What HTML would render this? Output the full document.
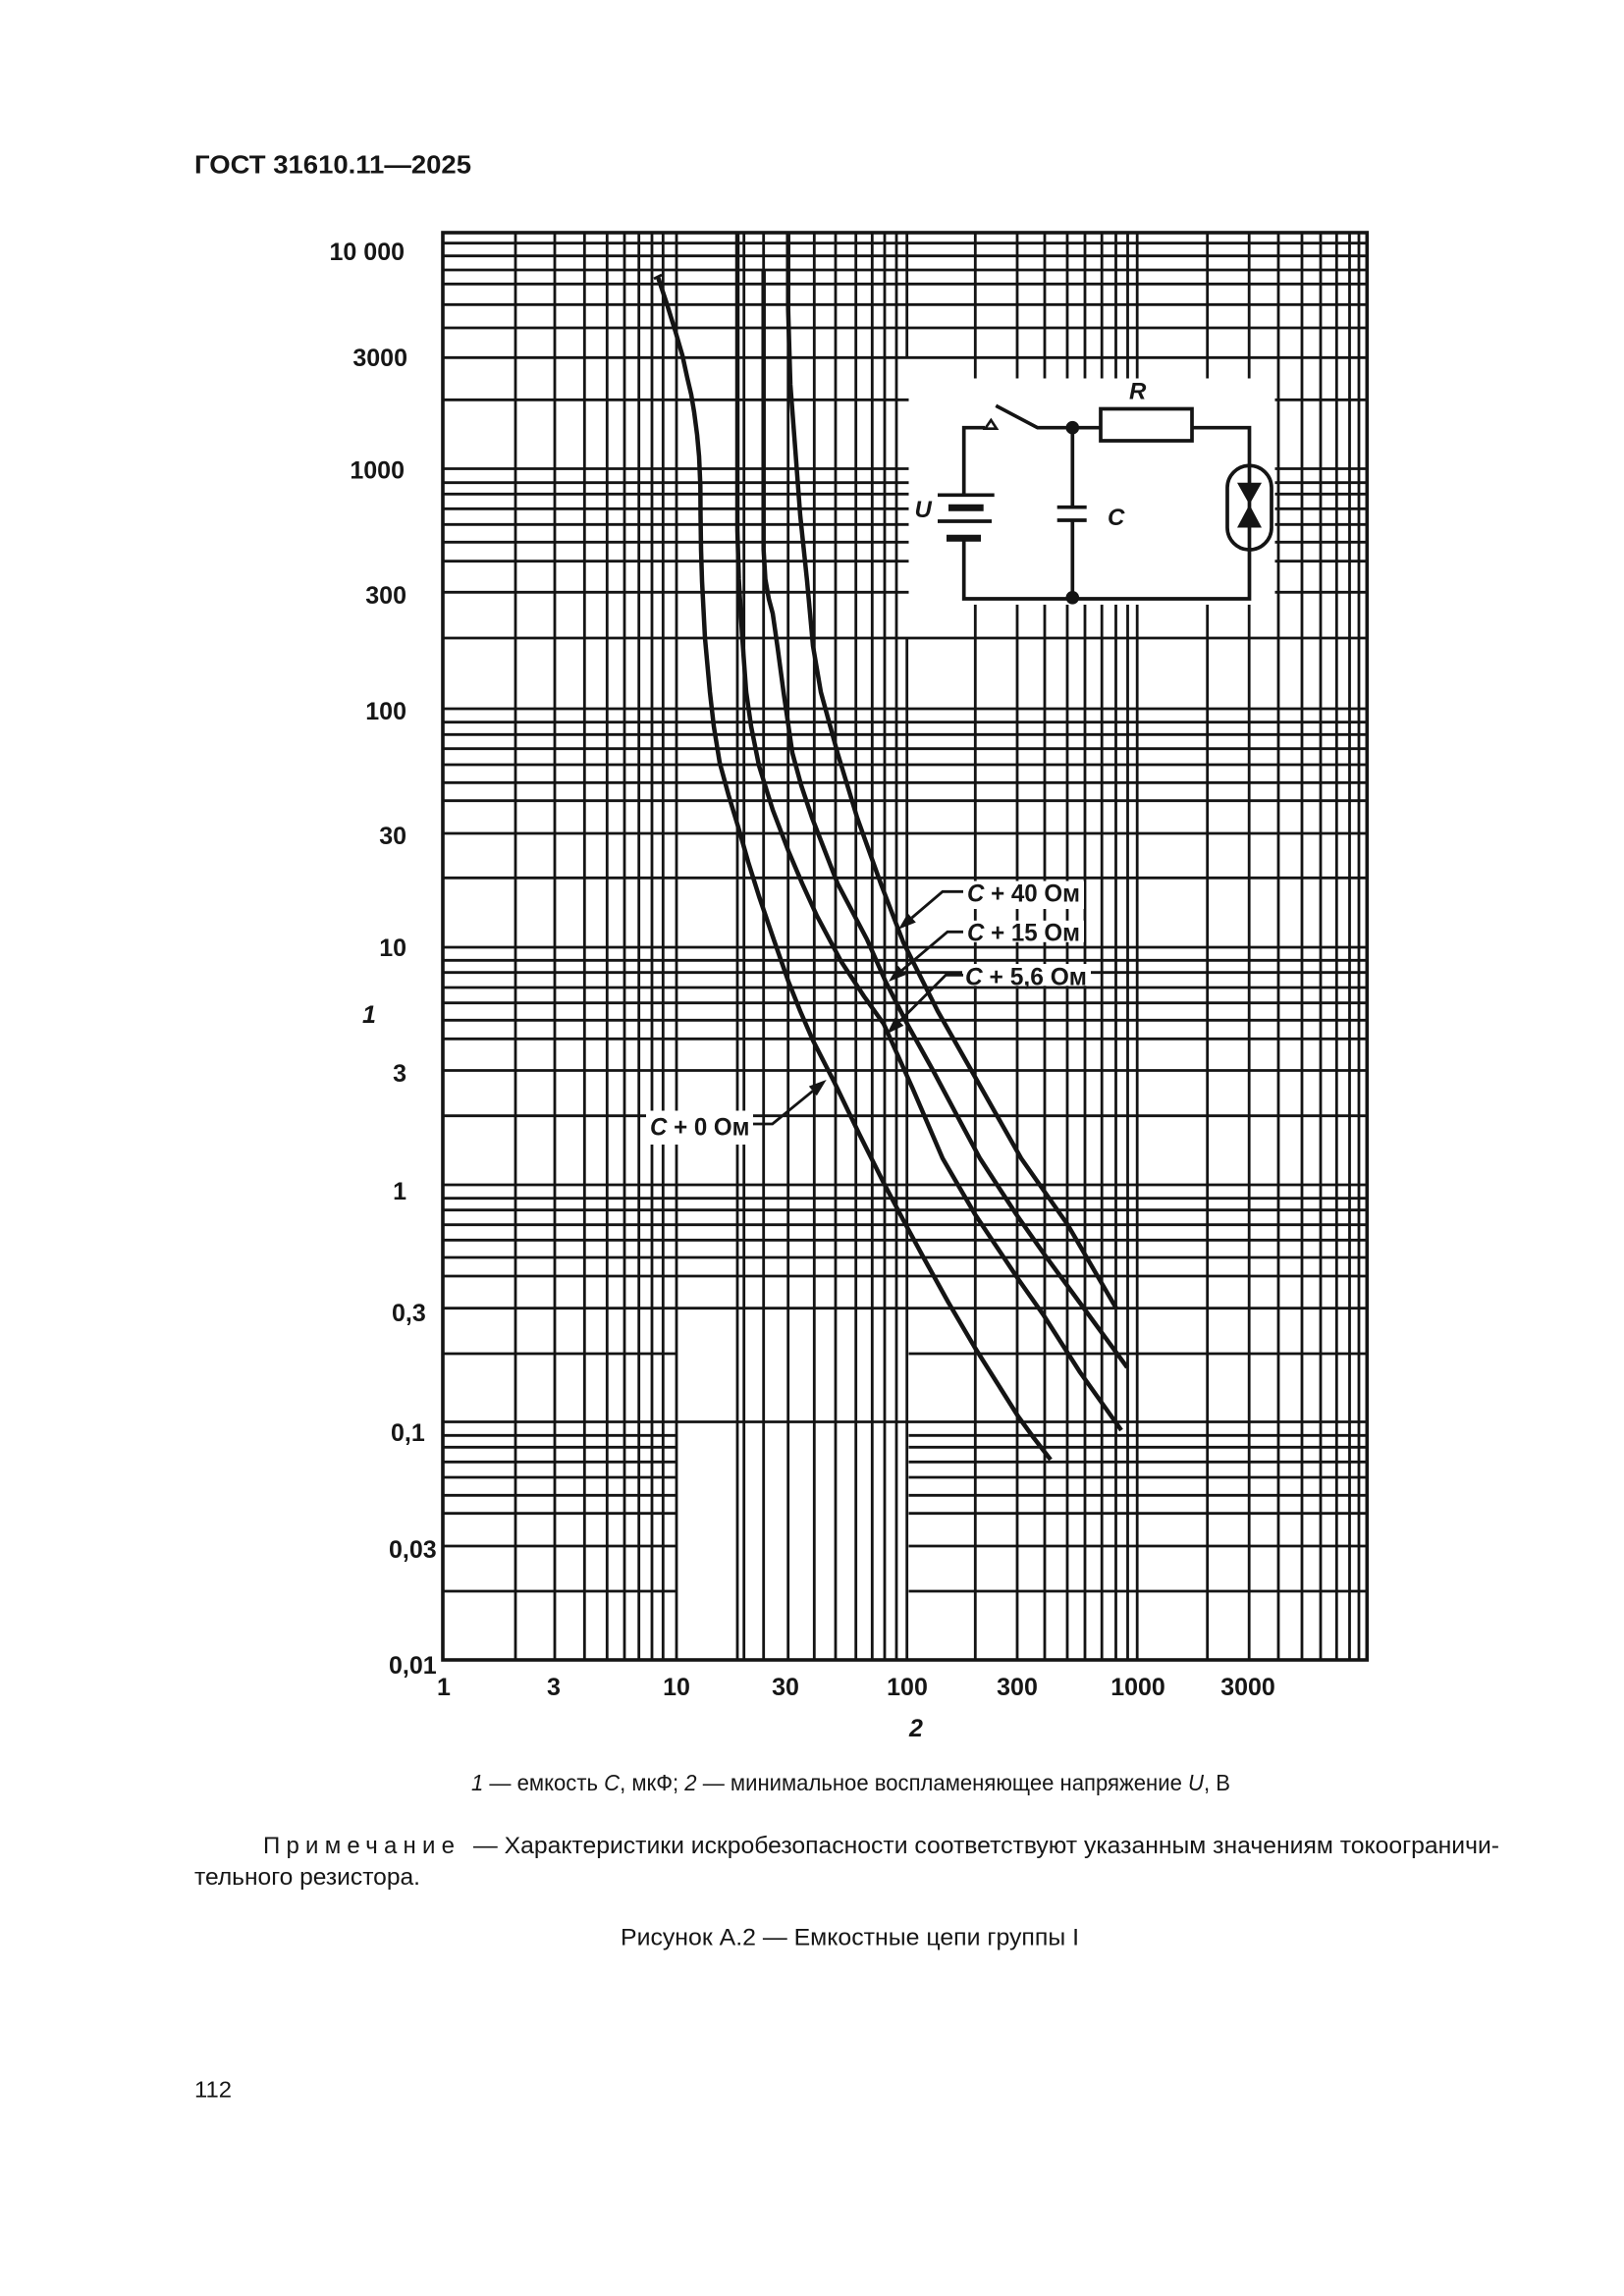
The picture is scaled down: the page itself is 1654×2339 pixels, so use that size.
<!DOCTYPE html>
<html>
<head>
<meta charset="utf-8">
<style>
html,body{margin:0;padding:0;background:#ffffff;}
svg{display:block;}
text{font-family:"Liberation Sans","DejaVu Sans",sans-serif;fill:#161616;}
</style>
</head>
<body>
<svg width="1654" height="2339" viewBox="0 0 1654 2339" xmlns="http://www.w3.org/2000/svg">
<rect x="0" y="0" width="1654" height="2339" fill="#ffffff"/>

<!-- Title -->
<text x="198" y="176.7" font-size="25.5" font-weight="bold" textLength="282" lengthAdjust="spacingAndGlyphs">ГОСТ 31610.11—2025</text>

<!-- Horizontal grid lines -->
<path fill="none" stroke="#141414" stroke-width="2.8" d="
M451 247.7H1392.3 M451 260.7H1392.3 M451 275H1392.3 M451 289.3H1392.3 M451 310.3H1392.3 M451 334H1392.3 M451 364.3H1392.3 M451 407.3H1392.3
M451 477.5H1392.3 M451 491.7H1392.3 M451 503.3H1392.3 M451 518.3H1392.3 M451 534.3H1392.3 M451 552.3H1392.3 M451 571.7H1392.3 M451 603.3H1392.3 M451 650H1392.3
M451 722H1392.3 M451 735.7H1392.3 M451 748.3H1392.3 M451 762.7H1392.3 M451 779H1392.3 M451 797.3H1392.3 M451 815.7H1392.3 M451 849H1392.3 M451 894.3H1392.3
M451 965H1392.3 M451 978.3H1392.3 M451 990.7H1392.3 M451 1006H1392.3 M451 1021.7H1392.3 M451 1039.3H1392.3 M451 1058.3H1392.3 M451 1090.5H1392.3 M451 1136.7H1392.3
M451 1207H1392.3 M451 1220.7H1392.3 M451 1232.7H1392.3 M451 1247.7H1392.3 M451 1263.3H1392.3 M451 1281H1392.3 M451 1300H1392.3 M451 1332.7H1392.3
M451 1379H689 M925.5 1379H1392.3
M451 1448.5H1392.3
M451 1462.3H689 M925.5 1462.3H1392.3
M451 1474.3H689 M925.5 1474.3H1392.3
M451 1489.3H689 M925.5 1489.3H1392.3
M451 1505H689 M925.5 1505H1392.3
M451 1523.3H689 M925.5 1523.3H1392.3
M451 1541.7H689 M925.5 1541.7H1392.3
M451 1575H689 M925.5 1575H1392.3
M451 1621H689 M925.5 1621H1392.3
"/>

<!-- Vertical grid lines -->
<path fill="none" stroke="#141414" stroke-width="2.8" d="
M525 237V1691 M565 237V1691 M595.3 237V1691 M618.3 237V1691 M636 237V1691 M650.7 237V1691 M664 237V1691 M675.3 237V1691 M689 237V1691
M751 237V1691 M757.7 237V1691 M777.7 237V1691 M802.7 237V1691 M829.3 237V1691 M851 237V1691 M871.7 237V1691 M888.3 237V1691 M901 237V1691 M913 237V1691
M923.7 237V364.3 M923.7 650V1691
M993.3 237V1691 M1036 237V1691 M1064 237V1691 M1087 237V1691 M1105 237V1691 M1122.2 237V1691 M1136.5 237V1691 M1148.5 237V1691 M1158.2 237V1691
M1229.7 237V1691 M1272.2 237V1691 M1302 237V1691 M1326 237V1691 M1345 237V1691 M1361.3 237V1691 M1374.5 237V1691 M1384 237V1691
"/>

<!-- Frame -->
<rect x="451" y="237" width="941.3" height="1454" fill="none" stroke="#141414" stroke-width="3.6"/>

<!-- White boxes (circuit inset and labels) -->
<rect x="925.5" y="385.5" width="373" height="230.5" fill="#ffffff"/>
<rect x="980" y="897.5" width="124" height="28.5" fill="#ffffff"/>
<rect x="980" y="937.8" width="124" height="22" fill="#ffffff"/>
<rect x="980" y="982" width="131" height="22.3" fill="#ffffff"/>
<rect x="658" y="1131.5" width="109" height="34.5" fill="#ffffff"/>

<!-- Curves -->
<g fill="none" stroke="#141414" stroke-width="4.5" stroke-linejoin="round" stroke-linecap="butt">
<polyline points="670,282 679,309 688,338 695,362 700,385 704,402 707,420 710,443 712,465 713.3,495 713.5,525 714,560 715,592 718,650 723,705 727,740 733,777 742,810 752,843 762,878 773,913 788,957 803,1000 815,1030 828,1060 850,1103 875,1155 900,1205 920,1243 940,1280 966,1327 993,1373 1015,1408 1037,1443 1053,1465 1070,1487"/>
<polyline points="751,237 751,540 752.5,590 756,650 760,705 765,740 773,780 787,825 803,867 817,900 832,933 857,980 880,1015 900,1043 930,1110 960,1180 993,1237 1037,1303 1063,1340 1100,1398 1142,1457"/>
<polyline points="777.7,275 777.7,560 779.5,590 783,610 787,625 792,660 798,705 807,767 816,800 827,833 853,900 883,957 902,1000 925,1045 950,1090 975,1137 998,1180 1035,1237 1063,1277 1107,1337 1148,1393"/>
<polyline points="802.7,237 802.7,315 805,392 810,458 815,525 822,592 828,658 836,705 853,767 873,833 897,900 920,960 955,1030 993,1097 1040,1180 1087,1247 1137,1333"/>
</g>
<path d="M666 284 L674 280" stroke="#141414" stroke-width="2.8"/>

<!-- Leaders and arrows -->
<g fill="none" stroke="#141414" stroke-width="2.8">
<path d="M981 908.3 H960 L928.7 935"/>
<path d="M981 949.3 H965 L918.7 988.4"/>
<path d="M981 993.3 H963.3 L916 1040.6"/>
<path d="M767 1145 H786.7 L827.8 1111.4"/>
</g>
<g fill="#141414" stroke="none">
<polygon points="915,946.7 932.8,939.6 924.6,930.4"/>
<polygon points="905,1000 922.8,993 914.7,983.8"/>
<polygon points="903.3,1053.3 920.3,1044.9 911.7,1036.3"/>
<polygon points="841.7,1100 831.8,1116.2 823.8,1106.6"/>
</g>

<!-- Curve labels -->
<g font-size="25" font-weight="bold">
<text x="985" y="918.3" textLength="115" lengthAdjust="spacingAndGlyphs"><tspan font-style="italic">C</tspan> + 40 Ом</text>
<text x="985" y="958.3" textLength="115" lengthAdjust="spacingAndGlyphs"><tspan font-style="italic">C</tspan> + 15 Ом</text>
<text x="983" y="1003.3" textLength="124" lengthAdjust="spacingAndGlyphs"><tspan font-style="italic">C</tspan> + 5,6 Ом</text>
<text x="662" y="1156.7" textLength="101.5" lengthAdjust="spacingAndGlyphs"><tspan font-style="italic">C</tspan> + 0 Ом</text>
</g>

<!-- Circuit -->
<g fill="none" stroke="#141414" stroke-width="3.7">
<path d="M981.7 504 V435.7 H1003"/>
<path d="M1014.3 413.3 L1056.7 435.7 H1121"/>
<rect x="1121" y="416.5" width="93" height="32.5" fill="#ffffff"/>
<path d="M1214 435.7 H1272.5 V610 H981.7 V548"/>
<path d="M1092.3 435.7 V516.7 M1092.3 530 V609"/>
<path d="M1076.7 516.7 H1106.7 M1076.7 530 H1106.7"/>
<path d="M955 504.3 H1012.7 M955 531 H1010"/>
<path d="M966 517.3 H1001.7 M964 548.3 H999" stroke-width="7"/>
<rect x="1250" y="474.3" width="45" height="85.7" rx="22.5" ry="22.5"/>
</g>
<path d="M1003.3 436.7 L1009.3 428 L1015 436.7 Z" fill="#ffffff" stroke="#141414" stroke-width="2.6"/>
<g fill="#141414">
<circle cx="1092.3" cy="435.7" r="6.8"/>
<circle cx="1092.3" cy="608.8" r="6.8"/>
<polygon points="1260,491.7 1285,491.7 1272.5,514"/>
<polygon points="1272.5,514 1260,537.5 1285,537.5"/>
</g>
<g font-size="24" font-style="italic" font-weight="bold">
<text x="931.5" y="527">U</text>
<text x="1128" y="535">C</text>
<text x="1150" y="406.7">R</text>
</g>

<!-- Y axis labels -->
<g font-size="25" font-weight="bold" text-anchor="end">
<text x="412" y="265">10 000</text>
<text x="415" y="373">3000</text>
<text x="412" y="487.5">1000</text>
<text x="414" y="615">300</text>
<text x="414" y="733">100</text>
<text x="414" y="860">30</text>
<text x="414" y="974">10</text>
<text x="414" y="1102">3</text>
<text x="414" y="1222">1</text>
</g>
<g font-size="25" font-weight="bold">
<text x="399" y="1346">0,3</text>
<text x="398" y="1468">0,1</text>
<text x="396" y="1587">0,03</text>
<text x="396" y="1705">0,01</text>
<text x="369" y="1042" font-style="italic">1</text>
</g>

<!-- X axis labels -->
<g font-size="25" font-weight="bold" text-anchor="middle">
<text x="452" y="1727">1</text>
<text x="564" y="1727">3</text>
<text x="689" y="1727">10</text>
<text x="800" y="1727">30</text>
<text x="924" y="1727">100</text>
<text x="1036" y="1727">300</text>
<text x="1159" y="1727">1000</text>
<text x="1271" y="1727">3000</text>
<text x="933" y="1769" font-style="italic">2</text>
</g>

<!-- Bottom text -->
<text x="480" y="1824" font-size="23" textLength="773" lengthAdjust="spacingAndGlyphs"><tspan font-style="italic">1</tspan> — емкость <tspan font-style="italic">C</tspan>, мкФ; <tspan font-style="italic">2</tspan> — минимальное воспламеняющее напряжение <tspan font-style="italic">U</tspan>, В</text>

<text x="268" y="1888" font-size="24" textLength="195" lengthAdjust="spacing">Примечание</text>
<text x="482" y="1888" font-size="24" textLength="1045" lengthAdjust="spacingAndGlyphs">— Характеристики искробезопасности соответствуют указанным значениям токоограничи-</text>
<text x="198" y="1920" font-size="24" textLength="230" lengthAdjust="spacingAndGlyphs">тельного резистора.</text>

<text x="632" y="1981.7" font-size="24" textLength="467" lengthAdjust="spacingAndGlyphs">Рисунок А.2 — Емкостные цепи группы I</text>

<text x="198" y="2136.7" font-size="23" textLength="38" lengthAdjust="spacingAndGlyphs">112</text>
</svg>
</body>
</html>
